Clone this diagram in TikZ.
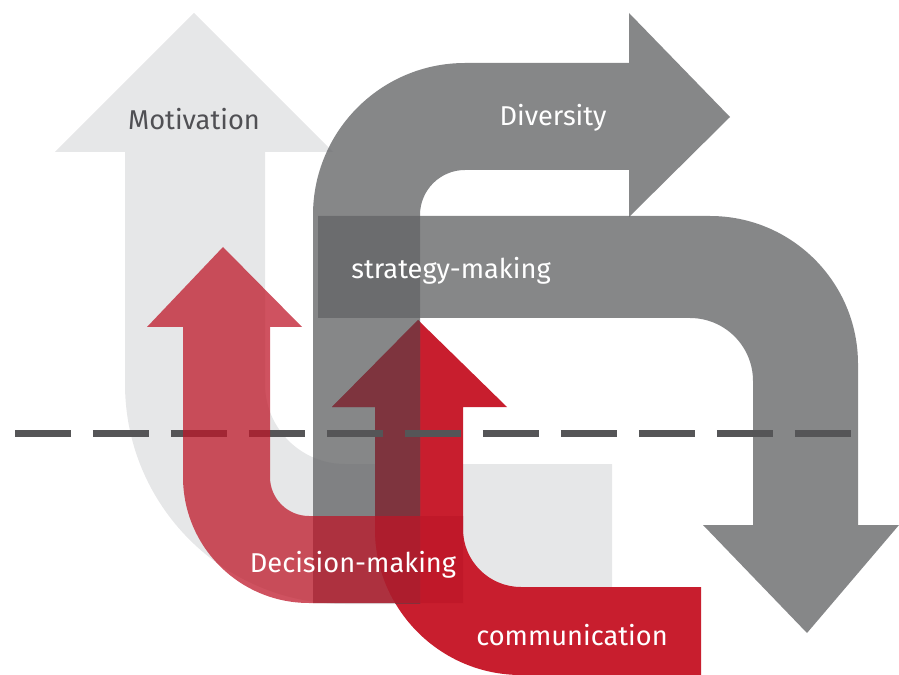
\documentclass[tikz,border=0pt]{standalone}
\usepackage{fontspec}
\setmainfont{Fira Sans}
\definecolor{lightarrow}{RGB}{230,231,232}
\definecolor{grayarrow}{RGB}{100,101,103}
\definecolor{redarrow}{RGB}{190,22,40}
\definecolor{commred}{RGB}{200,30,46}
\definecolor{overlapred}{RGB}{126,52,62}
\definecolor{dashgray}{RGB}{85,85,87}
\definecolor{labelgray}{RGB}{80,80,84}
% outline of the communication arrow (used twice)
\newcommand{\commpath}{(418,320) -- (507,407) -- (463,407) -- (463,529)
  arc[start angle=180, end angle=90, radius=58] -- (701,587) -- (701,675) -- (521,675)
  arc[start angle=90, end angle=180, radius=146] -- (375,407) -- (332,407) -- cycle}
\begin{document}
\begin{tikzpicture}[x=0.02cm, y=-0.02cm,
	arrowtext/.style={font=\fontsize{15.5}{17}\selectfont, text=white, inner sep=0pt},
	grayfill/.style={fill=grayarrow, opacity=.78}]
	\useasboundingbox (0,0) rectangle (899,675);
	% motivation
	\fill[lightarrow] (194,13) -- (333,152) -- (265,152) -- (265,384)
		arc[start angle=180, end angle=90, radius=80] -- (612,464) -- (612,604) -- (345,604)
		arc[start angle=90, end angle=180, radius=220] -- (125,152) -- (55,152) -- cycle;
	% communication
	\fill[commred] \commpath;
	% diversity
	\path[grayfill] (730,117) -- (629,217) -- (629,170) -- (465,170)
		arc[start angle=270, end angle=180, radius=45] -- (420,603) -- (313,603) -- (313,215)
		arc[start angle=180, end angle=270, radius=152] -- (629,63) -- (629,13) -- cycle;
	% strategy-making
	\path[grayfill] (318,216) -- (710,216)
		arc[start angle=270, end angle=360, radius=148] -- (858,525) -- (899,525) -- (807,633)
		-- (703,525) -- (753,525) -- (753,381)
		arc[start angle=0, end angle=-90, radius=63] -- (318,318) -- cycle;
	\begin{scope}
		\clip (313,200) rectangle (420,603);
		\fill[overlapred] \commpath;
	\end{scope}
	% dashed line
	\coordinate (dashL) at (15,433);
	\coordinate (dashR) at (851,433);
	\draw[dashgray, line width=0.14cm, dash pattern=on 1.12cm off 0.44cm] (dashL) -- (dashR);
	% decision-making
	\fill[redarrow, opacity=.74] (223,247) -- (302,327) -- (270,327) -- (270,477)
		arc[start angle=180, end angle=90, radius=39] -- (463,516) -- (463,603) -- (309,603)
		arc[start angle=90, end angle=180, radius=126] -- (183,327) -- (147,327) -- cycle;
	% labels
	\node (motiv)  at (194,119) [arrowtext, text=labelgray] {Motivation};
	\node (divers) at (553,118) [arrowtext] {Diversity};
	\node (strat)  at (451,271) [arrowtext] {strategy-making};
	\node (decis)  at (353,565) [arrowtext] {Decision-making};
	\node (commun) at (572,635) [arrowtext] {communication};
\end{tikzpicture}
\end{document}
